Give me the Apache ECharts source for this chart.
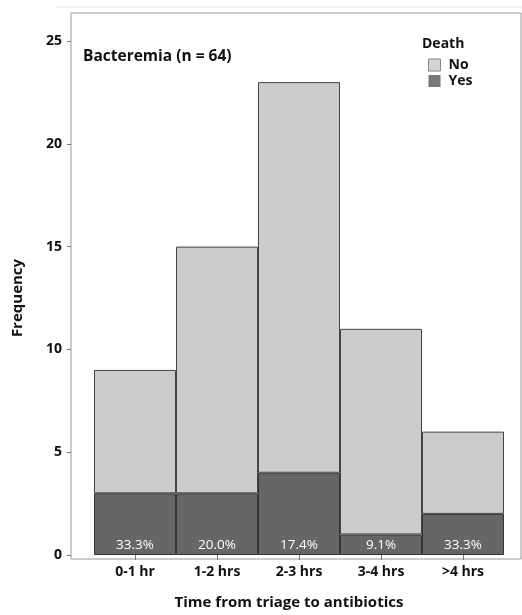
<!DOCTYPE html>
<html><head><meta charset="utf-8">
<script src="https://cdn.jsdelivr.net/npm/echarts@6/dist/echarts.min.js"></script>
<style>html,body{margin:0;padding:0;background:#fff}#c{width:522px;height:615px}</style>
</head><body><div id="c"></div>
<script>
const categories = ['0-1 hr', '1-2 hrs', '2-3 hrs', '3-4 hrs', '>4 hrs'];
const deathNo = [6, 12, 19, 10, 4];
const deathYes = [3, 3, 4, 1, 2];
const pctLabels = ['33.3%', '20.0%', '17.4%', '9.1%', '33.3%'];
const yTicks = [0, 5, 10, 15, 20, 25];

const FONT = '"Open Sans", "Noto Sans", sans-serif';
const chart = echarts.init(document.getElementById('c'));
chart.setOption({
  animation: false,
  textStyle: { fontFamily: FONT },
  title: {
    text: 'Bacteremia (n = 64)', left: 78, top: 44,
    textStyle: { fontSize: 15.5, fontWeight: 'bold', color: '#111', fontFamily: FONT }
  },
  legend: {
    orient: 'vertical', left: 423, top: 53, itemWidth: 12, itemHeight: 12, itemGap: 2,
    icon: 'rect',
    textStyle: { fontSize: 14, fontWeight: 'bold', color: '#111', fontFamily: FONT, padding: [0, 0, 0, 3] },
    data: [
      { name: 'No', itemStyle: { color: '#d4d4d4', borderColor: '#888', borderWidth: 1 } },
      { name: 'Yes', itemStyle: { color: '#777', borderWidth: 0 } }
    ]
  },
  graphic: [
    { type: 'text', left: 422, top: 37, style: { text: 'Death', font: 'bold 14px ' + FONT, fill: '#111' } },
    { type: 'line', shape: { x1: 55, y1: 7, x2: 522, y2: 7 }, style: { stroke: '#e4e4e4', lineWidth: 1 } }
  ],
  grid: [
    { left: 94, right: 18, top: 41, bottom: 56 },
    { left: 71, right: 1, top: 13, bottom: 56, show: true, borderColor: '#999', borderWidth: 1, z: 0 }
  ],
  xAxis: [
    {
      gridIndex: 0, type: 'category', data: categories, boundaryGap: true,
      axisLine: { show: false },
      axisTick: { show: true, alignWithLabel: true, length: 5, lineStyle: { color: '#777' } },
      axisLabel: { fontSize: 14, fontWeight: 'bold', color: '#111', margin: 10, fontFamily: FONT },
      name: 'Time from triage to antibiotics', nameLocation: 'middle', nameGap: 40,
      nameTextStyle: { fontSize: 15, fontWeight: 'bold', color: '#111', fontFamily: FONT, padding: [0, 20, 0, 0] }
    },
    { gridIndex: 1, type: 'value', show: false }
  ],
  yAxis: [
    {
      gridIndex: 0, type: 'value', min: 0, max: 25, interval: 5, offset: 23,
      axisLine: { show: false },
      axisTick: { show: true, length: 4, lineStyle: { color: '#777' } },
      splitLine: { show: false },
      axisLabel: { fontSize: 14, fontWeight: 'bold', color: '#111', margin: 9, fontFamily: FONT },
      name: 'Frequency', nameLocation: 'middle', nameGap: 46,
      nameTextStyle: { fontSize: 15, fontWeight: 'bold', color: '#111', fontFamily: FONT }
    },
    { gridIndex: 1, type: 'value', show: false }
  ],
  series: [
    {
      name: 'Yes', type: 'bar', stack: 'd', data: deathYes, barWidth: '100%', barCategoryGap: '0%',
      itemStyle: { color: '#666', borderColor: '#333', borderWidth: 1 },
      label: {
        show: true, position: 'insideBottom', distance: 3, color: '#fff', fontSize: 13.5,
        fontFamily: FONT, formatter: p => pctLabels[p.dataIndex]
      }
    },
    {
      name: 'No', type: 'bar', stack: 'd', data: deathNo, barWidth: '100%', barCategoryGap: '0%',
      itemStyle: { color: '#cccccc', borderColor: '#444', borderWidth: 1 }
    }
  ]
});
</script></body></html>
